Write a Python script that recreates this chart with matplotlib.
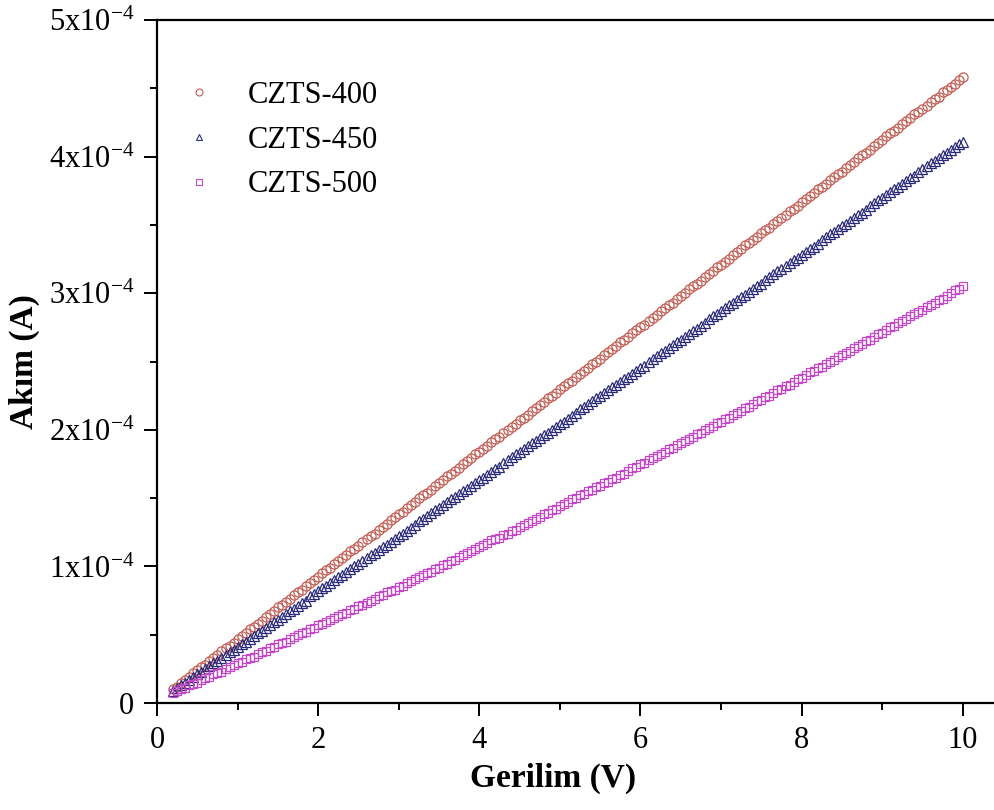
import numpy as np
import matplotlib
matplotlib.use("Agg")
import matplotlib.pyplot as plt
from matplotlib.lines import Line2D
from matplotlib.ticker import MultipleLocator, FixedLocator, FuncFormatter

# Applied voltage sweep (V), 0.05 V steps
voltage = [
    0.20, 0.25, 0.30, 0.35, 0.40, 0.45, 0.50, 0.55, 0.60, 0.65,
    0.70, 0.75, 0.80, 0.85, 0.90, 0.95, 1.00, 1.05, 1.10, 1.15,
    1.20, 1.25, 1.30, 1.35, 1.40, 1.45, 1.50, 1.55, 1.60, 1.65,
    1.70, 1.75, 1.80, 1.85, 1.90, 1.95, 2.00, 2.05, 2.10, 2.15,
    2.20, 2.25, 2.30, 2.35, 2.40, 2.45, 2.50, 2.55, 2.60, 2.65,
    2.70, 2.75, 2.80, 2.85, 2.90, 2.95, 3.00, 3.05, 3.10, 3.15,
    3.20, 3.25, 3.30, 3.35, 3.40, 3.45, 3.50, 3.55, 3.60, 3.65,
    3.70, 3.75, 3.80, 3.85, 3.90, 3.95, 4.00, 4.05, 4.10, 4.15,
    4.20, 4.25, 4.30, 4.35, 4.40, 4.45, 4.50, 4.55, 4.60, 4.65,
    4.70, 4.75, 4.80, 4.85, 4.90, 4.95, 5.00, 5.05, 5.10, 5.15,
    5.20, 5.25, 5.30, 5.35, 5.40, 5.45, 5.50, 5.55, 5.60, 5.65,
    5.70, 5.75, 5.80, 5.85, 5.90, 5.95, 6.00, 6.05, 6.10, 6.15,
    6.20, 6.25, 6.30, 6.35, 6.40, 6.45, 6.50, 6.55, 6.60, 6.65,
    6.70, 6.75, 6.80, 6.85, 6.90, 6.95, 7.00, 7.05, 7.10, 7.15,
    7.20, 7.25, 7.30, 7.35, 7.40, 7.45, 7.50, 7.55, 7.60, 7.65,
    7.70, 7.75, 7.80, 7.85, 7.90, 7.95, 8.00, 8.05, 8.10, 8.15,
    8.20, 8.25, 8.30, 8.35, 8.40, 8.45, 8.50, 8.55, 8.60, 8.65,
    8.70, 8.75, 8.80, 8.85, 8.90, 8.95, 9.00, 9.05, 9.10, 9.15,
    9.20, 9.25, 9.30, 9.35, 9.40, 9.45, 9.50, 9.55, 9.60, 9.65,
    9.70, 9.75, 9.80, 9.85, 9.90, 9.95, 10.00,
]

# Measured current (µA) for each annealing temperature
current_400 = [
    10, 12, 15, 17, 19, 22, 24, 26, 28, 31,
    33, 35, 38, 40, 42, 44, 47, 49, 51, 54,
    56, 58, 60, 63, 65, 67, 70, 72, 74, 76,
    79, 81, 83, 86, 88, 90, 92, 95, 97, 99,
    102, 104, 106, 108, 111, 113, 115, 118, 120, 122,
    124, 127, 129, 131, 134, 136, 138, 140, 143, 145,
    147, 150, 152, 154, 156, 159, 161, 163, 166, 168,
    170, 172, 175, 177, 179, 182, 184, 186, 188, 191,
    193, 195, 198, 200, 202, 204, 207, 209, 211, 214,
    216, 218, 220, 223, 225, 227, 230, 232, 234, 236,
    239, 241, 243, 245, 248, 250, 252, 255, 257, 259,
    261, 264, 266, 268, 271, 273, 275, 277, 280, 282,
    284, 287, 289, 291, 293, 296, 298, 300, 303, 305,
    307, 309, 312, 314, 316, 319, 321, 323, 325, 328,
    330, 332, 335, 337, 339, 341, 344, 346, 348, 351,
    353, 355, 357, 360, 362, 364, 367, 369, 371, 373,
    376, 378, 380, 383, 385, 387, 389, 392, 394, 396,
    399, 401, 403, 405, 408, 410, 412, 415, 417, 419,
    421, 424, 426, 428, 431, 433, 435, 437, 440, 442,
    444, 447, 449, 451, 453, 456, 458,
]

current_450 = [
    9, 11, 13, 15, 17, 19, 21, 23, 25, 27,
    29, 31, 33, 35, 37, 39, 41, 43, 45, 47,
    49, 51, 53, 55, 57, 59, 61, 63, 65, 67,
    69, 71, 73, 75, 78, 80, 82, 84, 86, 88,
    90, 92, 94, 96, 98, 100, 102, 104, 106, 108,
    110, 112, 114, 116, 118, 120, 122, 124, 126, 128,
    130, 133, 135, 137, 139, 141, 143, 145, 147, 149,
    151, 153, 155, 157, 159, 161, 163, 165, 167, 169,
    171, 173, 176, 178, 180, 182, 184, 186, 188, 190,
    192, 194, 196, 198, 200, 202, 204, 206, 208, 210,
    212, 215, 217, 219, 221, 223, 225, 227, 229, 231,
    233, 235, 237, 239, 241, 243, 245, 247, 250, 252,
    254, 256, 258, 260, 262, 264, 266, 268, 270, 272,
    274, 276, 278, 281, 283, 285, 287, 289, 291, 293,
    295, 297, 299, 301, 303, 305, 307, 310, 312, 314,
    316, 318, 320, 322, 324, 326, 328, 330, 332, 334,
    336, 339, 341, 343, 345, 347, 349, 351, 353, 355,
    357, 359, 361, 364, 366, 368, 370, 372, 374, 376,
    378, 380, 382, 384, 386, 389, 391, 393, 395, 397,
    399, 401, 403, 405, 407, 409, 411,
]

current_500 = [
    7, 9, 10, 11, 13, 14, 15, 17, 18, 19,
    21, 22, 23, 25, 26, 28, 29, 30, 32, 33,
    34, 36, 37, 38, 40, 41, 43, 44, 45, 47,
    48, 50, 51, 52, 54, 55, 57, 58, 59, 61,
    62, 64, 65, 66, 68, 69, 71, 72, 73, 75,
    76, 78, 79, 81, 82, 83, 85, 86, 88, 89,
    91, 92, 94, 95, 96, 98, 99, 101, 102, 104,
    105, 107, 108, 110, 111, 113, 114, 116, 117, 119,
    120, 121, 123, 124, 126, 127, 129, 130, 132, 133,
    135, 136, 138, 139, 141, 142, 144, 146, 147, 149,
    150, 152, 153, 155, 156, 158, 159, 161, 162, 164,
    165, 167, 168, 170, 172, 173, 175, 176, 178, 179,
    181, 182, 184, 186, 187, 189, 190, 192, 193, 195,
    197, 198, 200, 201, 203, 205, 206, 208, 209, 211,
    212, 214, 216, 217, 219, 221, 222, 224, 225, 227,
    229, 230, 232, 233, 235, 237, 238, 240, 242, 243,
    245, 246, 248, 250, 251, 253, 255, 256, 258, 260,
    261, 263, 265, 266, 268, 270, 271, 273, 275, 276,
    278, 280, 281, 283, 285, 286, 288, 290, 291, 293,
    295, 296, 298, 300, 302, 303, 305,
]

series_labels = ["CZTS-400", "CZTS-450", "CZTS-500"]
series_colors = ["#c25c52", "#2a2a7a", "#c447c8"]
series_markers = ["o", "^", "s"]
series_sizes = [6.6, 7.4, 6.0]

y_major_ticks = [0, 1e-4, 2e-4, 3e-4, 4e-4, 5e-4]
x_major_ticks = [0, 2, 4, 6, 8, 10]

plt.rcParams["font.family"] = ["Liberation Serif", "DejaVu Serif"]
plt.rcParams["mathtext.fontset"] = "custom"
plt.rcParams["mathtext.rm"] = "Liberation Serif"
plt.rcParams["mathtext.it"] = "Liberation Serif:italic"
plt.rcParams["mathtext.bf"] = "Liberation Serif:bold"

fig = plt.figure(figsize=(9.95, 8.10), dpi=100)
ax = fig.add_axes([0.1578, 0.1321, 0.8422, 0.8432])

V = np.asarray(voltage)
for cur, lab, col, mk, ms in zip([current_400, current_450, current_500],
                                 series_labels, series_colors,
                                 series_markers, series_sizes):
    I = np.asarray(cur, dtype=float) * 1e-6
    ax.plot(V, I, linestyle="none", marker=mk, markersize=ms,
            markerfacecolor="none", markeredgecolor=col, markeredgewidth=0.9,
            label=lab)

ax.set_xlim(0, 10.4)
ax.set_ylim(0, 5e-4)

ax.xaxis.set_major_locator(FixedLocator(x_major_ticks))
ax.xaxis.set_minor_locator(MultipleLocator(1))
ax.yaxis.set_major_locator(FixedLocator(y_major_ticks))
ax.yaxis.set_minor_locator(MultipleLocator(0.5e-4))


def sci_label(v, pos):
    n = int(round(v / 1e-4))
    if n == 0:
        return "0"
    return r"$\mathregular{%dx10^{-4}}$" % n


ax.yaxis.set_major_formatter(FuncFormatter(sci_label))

for side in ["left", "bottom", "top"]:
    ax.spines[side].set_linewidth(1.6)
ax.spines["right"].set_visible(False)

ax.tick_params(axis="both", which="major", direction="out", length=9.5,
               width=1.4, labelsize=22, pad=7)
ax.tick_params(axis="both", which="minor", direction="out", length=4.8,
               width=1.4)

ax.set_xlabel("Gerilim (V)", fontsize=24, fontweight="bold")
ax.set_ylabel("Akım (A)", fontsize=24, fontweight="bold")
ax.xaxis.set_label_coords(0.473, -0.088)
ax.yaxis.set_label_coords(-0.14, 0.5)

legend_handles = [
    Line2D([], [], linestyle="none", marker=mk, markersize=5.0,
           markerfacecolor="none", markeredgecolor=col, markeredgewidth=0.8)
    for col, mk in zip(series_colors, series_markers)
]
ax.legend(legend_handles, series_labels, loc="upper left",
          bbox_to_anchor=(0.017, 0.929), frameon=False, fontsize=22,
          handlelength=1.0, handletextpad=1.1, labelspacing=0.52,
          borderaxespad=0.0)

fig.savefig("out.png", dpi=100)
